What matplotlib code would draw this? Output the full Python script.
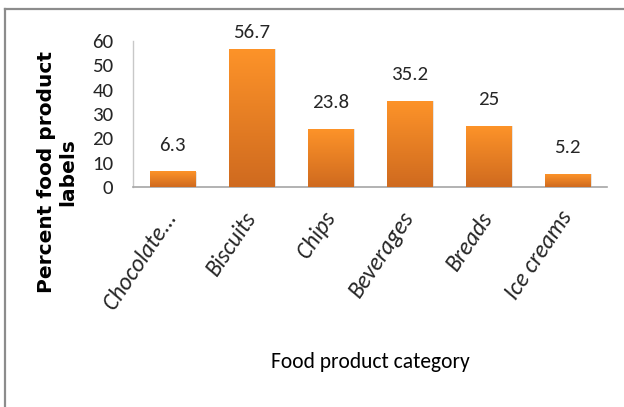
import numpy as np
import matplotlib.pyplot as plt
from matplotlib.colors import LinearSegmentedColormap
from matplotlib.lines import Line2D

# data
categories = ["Chocolate...", "Biscuits", "Chips", "Beverages", "Breads", "Ice creams"]
percent = [6.3, 56.7, 23.8, 35.2, 25, 5.2]
value_labels = ["6.3", "56.7", "23.8", "35.2", "25", "5.2"]
y_ticks = [0, 10, 20, 30, 40, 50, 60]

body = "Carlito"

fig = plt.figure(figsize=(6.24, 4.07), dpi=100)
ax = fig.add_axes([0.213, 0.5405, 0.760, 0.3587])

x = np.arange(len(categories))
bars = ax.bar(x, percent, width=0.57, color="none", edgecolor="none", zorder=2)

# orange gradient, light at the top, darker at the base
orange = LinearSegmentedColormap.from_list("orange", ["#cf6a1f", "#fd9329"])
grad = np.linspace(0, 1, 256).reshape(-1, 1)
for b in bars:
    x0, w, h = b.get_x(), b.get_width(), b.get_height()
    # soft drop shadow on the right
    ax.bar(x0 + w / 2 + 0.02, h, width=w, color="#e4e4e4", zorder=2)
    ax.imshow(grad, cmap=orange, origin="lower", aspect="auto",
              extent=[x0, x0 + w, 0, h], zorder=3)

for xi, v, lab in zip(x, percent, value_labels):
    pad = 13 if v < 50 else 6
    ax.annotate(lab, (xi, v), xytext=(0, pad), textcoords="offset points",
                ha="center", va="bottom", fontsize=15, family=body,
                color="#262626")

ax.set_xlim(-0.5, len(categories) - 0.5)
ax.set_ylim(0, 60)
ax.set_yticks(y_ticks)
ax.set_yticklabels([str(t) for t in y_ticks], family=body, fontsize=15,
                   color="#262626")
ax.set_xticks(x)
ax.set_xticklabels(categories, rotation=56, ha="right", va="center",
                   rotation_mode="anchor", family=body, style="italic",
                   fontsize=17, color="#262626")
ax.tick_params(axis="both", length=0)
ax.tick_params(axis="y", pad=14)
ax.tick_params(axis="x", pad=19)

for s in ["top", "right"]:
    ax.spines[s].set_visible(False)
ax.spines["left"].set_color("#c8c8c8")
ax.spines["bottom"].set_color("#a6a6a6")
ax.spines["left"].set_linewidth(1)
ax.spines["bottom"].set_linewidth(1.2)

fig.text(0.092, 0.578, "Percent food product\nlabels", rotation=90,
         ha="center", va="center", fontsize=14.5, fontweight="bold",
         family="DejaVu Sans", linespacing=1.15, color="black")
fig.text(0.593, 0.11, "Food product category", ha="center", va="center",
         fontsize=15.5, family=body, color="black")

# outer frame (top and left edges)
fig.add_artist(Line2D([5 / 624, 5 / 624], [0, 1 - 9 / 407],
                      transform=fig.transFigure, color="#8c8c8c", lw=1.6))
fig.add_artist(Line2D([5 / 624, 1], [1 - 9 / 407, 1 - 9 / 407],
                      transform=fig.transFigure, color="#8c8c8c", lw=1.6))

fig.savefig("out.png", dpi=100)
